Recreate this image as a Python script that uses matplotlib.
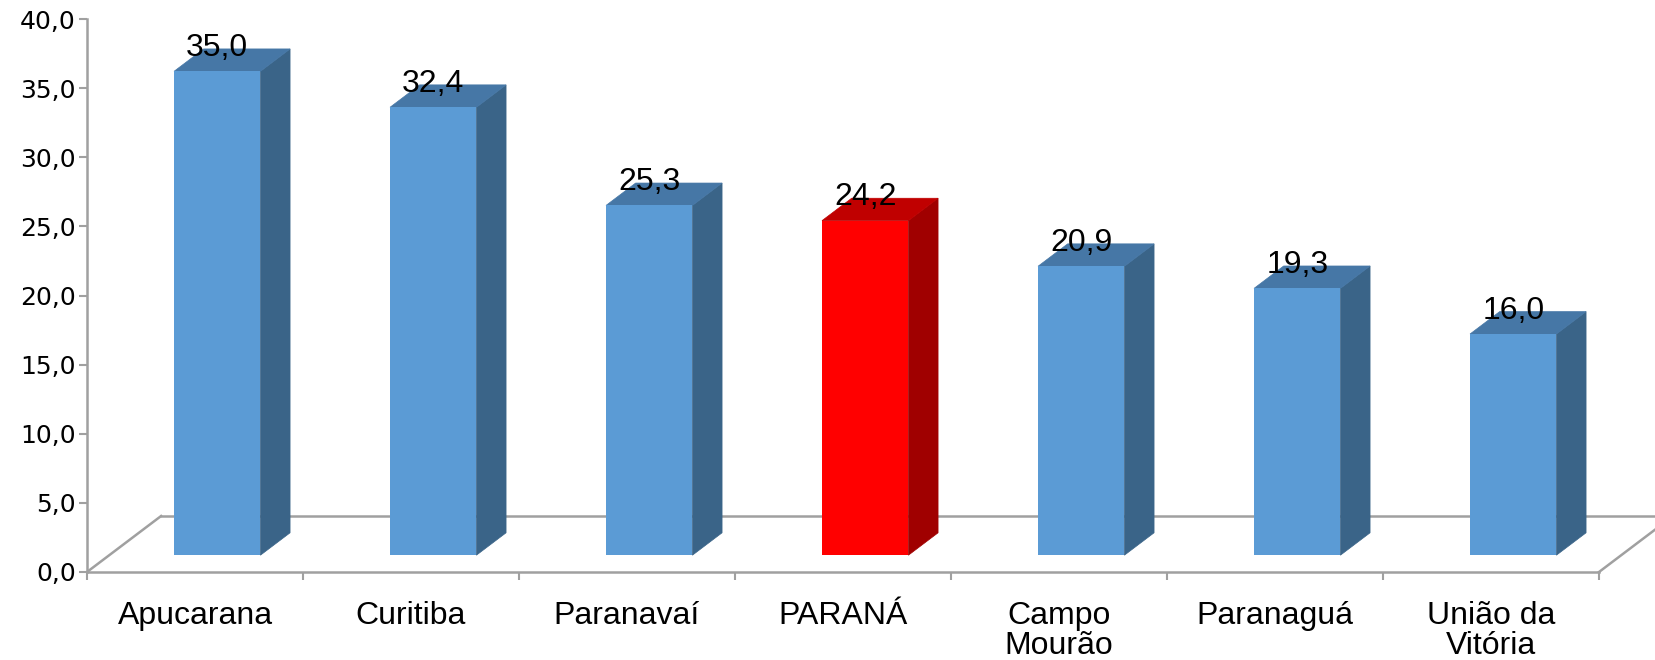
import numpy as np
import matplotlib.pyplot as plt
from matplotlib.patches import Polygon

cidades = ['Apucarana', 'Curitiba', 'Paranavaí', 'PARANÁ', 'Campo\nMourão', 'Paranaguá', 'União da\nVitória']
valores = [35.0, 32.4, 25.3, 24.2, 20.9, 19.3, 16.0]
destaque = 'PARANÁ'

yticks = np.arange(0, 45, 5)

# cores das faces (frente, lado, topo)
azul = ('#5B9BD5', '#3A6488', '#4677A6')
vermelho = ('#FF0000', '#A00000', '#C00000')

# profundidade do "3D" em unidades de dados
Dx, Dy = 0.343, 4.05
f0, f1 = 0.30, 0.70   # posicao da barra na profundidade
larg = 0.40

fig = plt.figure(figsize=(16.55, 6.6), dpi=100)
ax = fig.add_axes([87/1655, 88/660, 1512/1655, 553/660])
ax.set_xlim(0, len(cidades))
ax.set_ylim(0, 40)

cinza = '#A0A0A0'
# chao
ax.plot([0, Dx], [0, Dy], color=cinza, lw=1.8, clip_on=False, zorder=1)
ax.plot([Dx, len(cidades)+Dx], [Dy, Dy], color=cinza, lw=1.8, clip_on=False, zorder=1)
ax.plot([len(cidades), len(cidades)+Dx], [0, Dy], color=cinza, lw=1.8, clip_on=False, zorder=1)

for i, (c, v) in enumerate(zip(cidades, valores)):
    fr, lado, topo = vermelho if c == destaque else azul
    x0 = i + 0.5 - larg/2
    x1 = i + 0.5 + larg/2
    ax0, ay0 = f0*Dx, f0*Dy
    ax1, ay1 = f1*Dx, f1*Dy
    frente = [(x0+ax0, ay0), (x1+ax0, ay0), (x1+ax0, v+ay0), (x0+ax0, v+ay0)]
    side = [(x1+ax0, ay0), (x1+ax1, ay1), (x1+ax1, v+ay1), (x1+ax0, v+ay0)]
    top = [(x0+ax0, v+ay0), (x1+ax0, v+ay0), (x1+ax1, v+ay1), (x0+ax1, v+ay1)]
    ax.add_patch(Polygon(side, closed=True, fc=lado, ec=lado, lw=0.5, zorder=3, clip_on=False))
    ax.add_patch(Polygon(top, closed=True, fc=topo, ec=topo, lw=0.5, zorder=3, clip_on=False))
    ax.add_patch(Polygon(frente, closed=True, fc=fr, ec='none', zorder=4, clip_on=False))
    ax.text(i + 0.5 + ax0, v + ay0 + 1.1, f'{v:.1f}'.replace('.', ','),
            ha='center', va='baseline', fontsize=23, family='Liberation Sans', zorder=5)

ax.set_yticks(yticks)
ax.set_yticklabels([f'{t:.1f}'.replace('.', ',') for t in yticks], fontsize=18, family='DejaVu Sans')
ax.set_xticks(np.arange(len(cidades)+1))
ax.set_xticklabels([])
ax.set_xticks(np.arange(len(cidades)) + 0.5, minor=True)
ax.set_xticklabels(cidades, minor=True, fontsize=23, family='Liberation Sans', linespacing=1.0)
ax.tick_params(axis='x', which='minor', length=0, pad=21)
ax.tick_params(axis='x', which='major', length=6, color=cinza, width=1.5)
ax.tick_params(axis='y', length=6, color=cinza, width=1.5, pad=2)

ax.spines['right'].set_visible(False)
ax.spines['top'].set_visible(False)
ax.spines['left'].set_color(cinza)
ax.spines['bottom'].set_color(cinza)
ax.spines['left'].set_linewidth(1.8)
ax.spines['bottom'].set_linewidth(1.8)
ax.patch.set_alpha(0)

plt.savefig('out.png', dpi=100)
